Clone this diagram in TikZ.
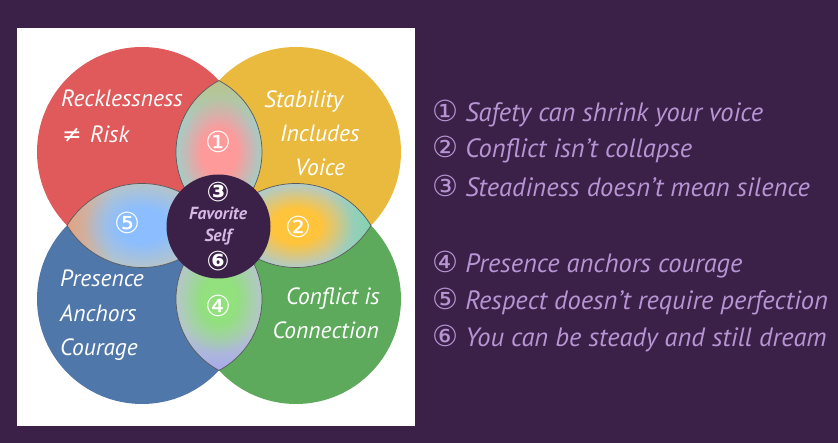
\documentclass[tikz,border=0pt]{standalone}
\usepackage{fontspec}
\setmainfont{PT Sans}
\newfontfamily\symfont{DejaVu Sans}
\usetikzlibrary{fadings}
\definecolor{bg}{HTML}{3B2147}
\definecolor{cred}{HTML}{E05A5C}
\definecolor{cyellow}{HTML}{E9BA3E}
\definecolor{cblue}{HTML}{5077AA}
\definecolor{cgreen}{HTML}{5EAA5C}
\definecolor{listtxt}{HTML}{B894D4}
\definecolor{centertxt}{HTML}{D6B8E6}
\definecolor{lensline}{HTML}{5A5A5A}
% lens colours
\definecolor{inA}{HTML}{FF9A9A}\definecolor{ringA}{HTML}{A9CAC4}\definecolor{tipA}{HTML}{BAC48A}
\definecolor{inB}{HTML}{FFC43C}\definecolor{ringB}{HTML}{B3CBC6}\definecolor{tipB}{HTML}{82D2B0}
\definecolor{inD}{HTML}{92E07E}\definecolor{ringD}{HTML}{B3C8C6}\definecolor{tipD}{HTML}{A8AAEA}
\definecolor{inE}{HTML}{8CBEFF}\definecolor{ringE}{HTML}{B4C4CC}\definecolor{tipE}{HTML}{E2A282}
\pgfdeclareverticalshading{shA}{100bp}{color(0bp)=(ringA); color(60bp)=(ringA); color(75bp)=(tipA); color(100bp)=(tipA)}
\pgfdeclareverticalshading{shD}{100bp}{color(0bp)=(tipD); color(25bp)=(tipD); color(40bp)=(ringD); color(100bp)=(ringD)}
\pgfdeclarehorizontalshading{shB}{100bp}{color(0bp)=(ringB); color(60bp)=(ringB); color(75bp)=(tipB); color(100bp)=(tipB)}
\pgfdeclarehorizontalshading{shE}{100bp}{color(0bp)=(tipE); color(25bp)=(tipE); color(40bp)=(ringE); color(100bp)=(ringE)}
\pgfdeclareradialshading{fadeshade}{\pgfpointorigin}{color(0bp)=(white); color(8bp)=(white); color(19bp)=(black); color(50bp)=(black)}
\pgfdeclarefading{lensfade}{\pgfuseshading{fadeshade}}
\newcommand{\setlens}[2]{%
  \pgfmathsetmacro\La{#1}\pgfmathsetmacro\Lb{#2}%
  \pgfmathsetmacro\LR{(\La*\La+\Lb*\Lb)/(2*\Lb)}%
  \pgfmathsetmacro\Lo{\LR-\Lb}%
  \pgfmathsetmacro\Lt{atan(\La/\Lo)}%
  \pgfmathsetmacro\Lp{90-\Lt}}
\def\vpath#1#2{(#1,#2+\La) arc[start angle=\Lt, end angle=-\Lt, radius=\LR pt] arc[start angle=180+\Lt, end angle=180-\Lt, radius=\LR pt] -- cycle}
\def\hpath#1#2{(#1+\La,#2) arc[start angle=\Lp, end angle=180-\Lp, radius=\LR pt] arc[start angle=180+\Lp, end angle=360-\Lp, radius=\LR pt] -- cycle}
\tikzset{
  circlelabel/.style={text=white, font=\itshape\fontsize{23.5}{26}\selectfont, inner sep=0pt},
  lensnum/.style={text=white, font=\symfont\fontsize{29}{30}\selectfont, inner sep=0pt},
  centernum/.style={text=white, font=\symfont\bfseries\fontsize{27}{30}\selectfont, inner sep=0pt},
  centerword/.style={text=centertxt, font=\bfseries\itshape\fontsize{17.5}{20}\selectfont, inner sep=0pt},
  listitem/.style={text=listtxt, font=\itshape\fontsize{26.5}{30}\selectfont, inner sep=0pt, anchor=base west},
  lensedge/.style={draw=lensline, line width=0.7pt}
}
\newcommand{\cnum}[1]{{\symfont\fontsize{29}{30}\selectfont #1}}
\begin{document}
\begin{tikzpicture}[x=1pt,y=1pt]
\useasboundingbox (0,0) rectangle (838,443);
\fill[bg] (0,0) rectangle (838,443);
\fill[white] (17,17) rectangle (415,415);
% four circles
\fill[cred]    (142,291) circle (105pt);
\fill[cyellow] (296,291) circle (105pt);
\fill[cblue]   (142,144) circle (105pt);
\fill[cgreen]  (296,144) circle (105pt);
% lenses
\setlens{71.4}{43}
\shade[shading=shA] \vpath{219}{291};
\fill[inA, path fading=lensfade] \vpath{219}{291};
\draw[lensedge] \vpath{219}{291};
\shade[shading=shD] \vpath{219}{144};
\fill[inD, path fading=lensfade] \vpath{219}{144};
\draw[lensedge] \vpath{219}{144};
\setlens{75}{42}
\shade[shading=shE] \hpath{142}{217.5};
\fill[inE, path fading=lensfade] \hpath{142}{217.5};
\draw[lensedge] \hpath{142}{217.5};
\shade[shading=shB] \hpath{296}{217.5};
\fill[inB, path fading=lensfade] \hpath{296}{217.5};
\draw[lensedge] \hpath{296}{217.5};
% centre
\fill[bg] (218.5,216.5) circle (52pt);
% circle labels
\node[circlelabel, anchor=base west] (rk1) at (61,336) {Recklessness};
\node[circlelabel, anchor=base west] (rk2) at (62,300) {{\symfont ≠}\hspace{0.35em}Risk};
\node[circlelabel, anchor=base west] (st1) at (264,335) {Stability};
\node[circlelabel, anchor=base west] (st2) at (280,301) {Includes};
\node[circlelabel, anchor=base west] (st3) at (295,267) {Voice};
\node[circlelabel, anchor=base west] (pr1) at (60,156) {Presence};
\node[circlelabel, anchor=base west] (pr2) at (60,121) {Anchors};
\node[circlelabel, anchor=base west] (pr3) at (60,87) {Courage};
\node[circlelabel, anchor=base east] (co1) at (380,138) {Conflict is};
\node[circlelabel, anchor=base east] (co2) at (379,104) {Connection};
% lens numbers
\node[lensnum] (n1) at (218,301) {①};
\node[lensnum] (n5) at (127,220) {⑤};
\node[lensnum] (n2) at (298,216) {②};
\node[lensnum] (n4) at (218,137) {④};
% centre texts
\node[centernum] (n3) at (218,251) {③};
\node[centerword, anchor=base] (fav) at (218,223) {Favorite};
\node[centerword, anchor=base] (slf) at (218,201) {Self};
\node[centernum] (n6) at (218,182) {⑥};
% list
\node[listitem] (l1) at (432,321) {\cnum{①} Safety can shrink your voice};
\node[listitem] (l2) at (432,285) {\cnum{②} Conflict isn't collapse};
\node[listitem] (l3) at (432,246) {\cnum{③} Steadiness doesn't mean silence};
\node[listitem] (l4) at (432,170) {\cnum{④} Presence anchors courage};
\node[listitem] (l5) at (432,133) {\cnum{⑤} Respect doesn't require perfection};
\node[listitem] (l6) at (432,96) {\cnum{⑥} You can be steady and still dream};
\end{tikzpicture}
\end{document}
